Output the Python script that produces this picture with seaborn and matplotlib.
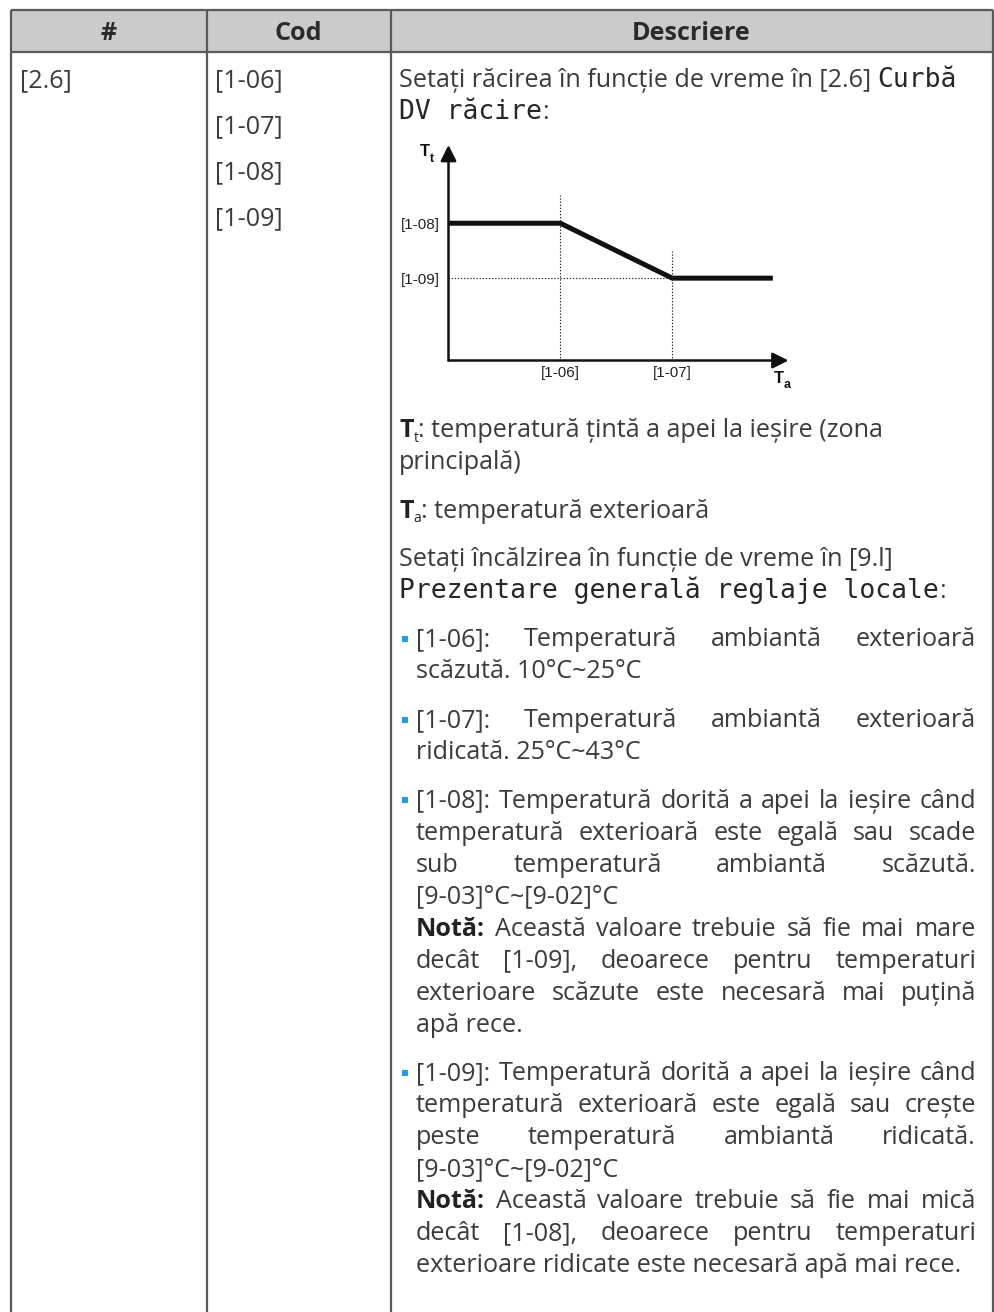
import matplotlib
matplotlib.use("Agg")
import matplotlib.pyplot as plt
from matplotlib.patches import Rectangle
import seaborn as sns
import pandas as pd

# ---------------- data ----------------
header_labels = ["#", "Cod", "Descriere"]
menu_code = "[2.6]"
setting_codes = ["[1-06]", "[1-07]", "[1-08]", "[1-09]"]

ta_points = [0, 10, 20, 29]          # outdoor ambient temperature (schematic)
tt_points = [10, 10, 6, 6]           # target leaving water temperature (schematic)
ta_tick_values = [10, 20]
ta_tick_labels = ["[1-06]", "[1-07]"]
tt_tick_values = [10, 6]
tt_tick_labels = ["[1-08]", "[1-09]"]
ta_axis_max = 30.4
tt_axis_max = 15.7
guide_tops = [12.05, 8.0]

intro_lines = [
    [("Setați răcirea în funcție de vreme în [2.6] ", "n"), ("Curbă", "m")],
    [("DV răcire", "m"), (":", "n")],
]
legend_tt_lines = [
    [("T", "b"), ("t", "s"), (": temperatură țintă a apei la ieșire (zona", "n")],
    [("principală)", "n")],
]
legend_ta_lines = [
    [("T", "b"), ("a", "s"), (": temperatură exterioară", "n")],
]
heating_lines = [
    [("Setați încălzirea în funcție de vreme în [9.l]", "n")],
    [("Prezentare generală reglaje locale", "m"), (":", "n")],
]
# (justify, runs)
bullet_items = [
    [(True, [("[1-06]: Temperatură ambiantă exterioară", "n")]),
     (False, [("scăzută. 10°C~25°C", "n")])],
    [(True, [("[1-07]: Temperatură ambiantă exterioară", "n")]),
     (False, [("ridicată. 25°C~43°C", "n")])],
    [(True, [("[1-08]: Temperatură dorită a apei la ieșire când", "n")]),
     (True, [("temperatură exterioară este egală sau scade", "n")]),
     (True, [("sub temperatură ambiantă scăzută.", "n")]),
     (False, [("[9-03]°C~[9-02]°C", "n")]),
     (True, [("Notă:", "b"), (" Această valoare trebuie să fie mai mare", "n")]),
     (True, [("decât [1-09], deoarece pentru temperaturi", "n")]),
     (True, [("exterioare scăzute este necesară mai puțină", "n")]),
     (False, [("apă rece.", "n")])],
    [(True, [("[1-09]: Temperatură dorită a apei la ieșire când", "n")]),
     (True, [("temperatură exterioară este egală sau crește", "n")]),
     (True, [("peste temperatură ambiantă ridicată.", "n")]),
     (False, [("[9-03]°C~[9-02]°C", "n")]),
     (True, [("Notă:", "b"), (" Această valoare trebuie să fie mai mică", "n")]),
     (True, [("decât [1-08], deoarece pentru temperaturi", "n")]),
     (False, [("exterioare ridicate este necesară apă mai rece.", "n")])],
]

# ---------------- style / layout ----------------
W, H = 995, 1312
sns.set_theme(style="white")
SANS = ["Open Sans", "DejaVu Sans"]
MONO = ["DejaVu Sans Mono"]
plt.rcParams["font.family"] = SANS

TXT = "#3b3b3b"
MONO_C = "#262626"
BORDER = "#5a5a5a"
HEAD_BG = "#cbcbcb"
BULLET_C = "#1e9fe0"
INK = "#111111"

fig = plt.figure(figsize=(W / 100, H / 100), dpi=100)
bg = fig.add_axes([0, 0, 1, 1])
bg.set_xlim(0, W)
bg.set_ylim(H, 0)
bg.axis("off")
renderer = fig.canvas.get_renderer()


def _measure(s, **kw):
    t = bg.text(0, 0, s, **kw)
    w = t.get_window_extent(renderer).width
    t.remove()
    return w


# auto-fit font sizes to reference line widths
fs_n = 15.0 * 495.0 / _measure("Setați încălzirea în funcție de vreme în [9.l]", family=SANS, size=15)
fs_m = 15.0 * 545.0 / _measure("Prezentare generală reglaje locale", family=MONO, size=15)

STY = {
    "n": dict(family=SANS, size=fs_n, color=TXT),
    "b": dict(family=SANS, size=fs_n, color="#222222", weight="bold"),
    "m": dict(family=MONO, size=fs_m, color=MONO_C),
    "s": dict(family=SANS, size=fs_n * 0.55, color="#222222"),
}
SUB_DY = 5


def measure(s, st):
    return _measure(s, **STY[st])


def space_w(st):
    return measure("a a", st) - measure("aa", st)


def put(x, y, s, st):
    dy = SUB_DY if st == "s" else 0
    bg.text(x, y + dy, s, ha="left", va="baseline", **STY[st])


def draw_line(x0, y, runs, justify=False, x1=None):
    if justify:
        words = []
        for txt, st in runs:
            for w in txt.split():
                words.append((w, st))
        widths = [measure(w, st) for w, st in words]
        gap = (x1 - x0 - sum(widths)) / max(len(words) - 1, 1)
        gap = max(gap, 0.6 * space_w("n"))
        x = x0
        for (w, st), wd in zip(words, widths):
            put(x, y, w, st)
            x += wd + gap
    else:
        x = x0
        for txt, st in runs:
            core = txt.strip(" ")
            lead = len(txt) - len(txt.lstrip(" "))
            trail = len(txt) - len(txt.rstrip(" "))
            x += lead * space_w(st)
            put(x, y, core, st)
            x += measure(core, st) + trail * space_w(st)


# ---------------- table frame ----------------
X_L, X_C1, X_C2, X_R = 11, 206.5, 390.5, 992.5
Y_T, Y_HB = 10, 52
bg.add_patch(Rectangle((X_L, Y_T), X_R - X_L, Y_HB - Y_T, facecolor=HEAD_BG, edgecolor="none"))
for xv in (X_L, X_C1, X_C2, X_R):
    bg.plot([xv, xv], [Y_T, H + 2], color=BORDER, lw=1.6, solid_capstyle="butt")
for yv in (Y_T, Y_HB):
    bg.plot([X_L, X_R], [yv, yv], color=BORDER, lw=1.6, solid_capstyle="butt")

for lab, xa, xb in zip(header_labels, (X_L, X_C1, X_C2), (X_C1, X_C2, X_R)):
    bg.text((xa + xb) / 2, 40, lab, ha="center", va="baseline", family=SANS,
            size=fs_n, weight="bold", color="#2b2b2b")

ROW_Y = 87
draw_line(20, ROW_Y, [(menu_code, "n")])
for i, c in enumerate(setting_codes):
    draw_line(215, ROW_Y + 46 * i, [(c, "n")])

# ---------------- description column ----------------
XT = 399
XB_TXT = 416
XJ_R = 976
L = 32.0
P = 48.5

y = ROW_Y
for ln in intro_lines:
    draw_line(XT, y, ln)
    y += L

# ---------------- chart (seaborn) ----------------
ox, oy = 448.5, 360.5           # axes origin in pixels
aw, ah = 340.0, 215.5
ax = fig.add_axes([ox / W, (H - oy) / H, aw / W, ah / H])
ax.set_facecolor("none")
df = pd.DataFrame({"Ta": ta_points, "Tt": tt_points})
sns.lineplot(data=df, x="Ta", y="Tt", ax=ax, color=INK, lw=3.6, sort=False,
             legend=False, solid_capstyle="butt", solid_joinstyle="miter")
ax.set_xlim(0, ta_axis_max)
ax.set_ylim(0, tt_axis_max)
for s in ax.spines.values():
    s.set_visible(False)
dots = (0, (1.2, 1.6))
ax.vlines(ta_points[1], 0, guide_tops[0], colors="#222222", lw=0.8, linestyles=dots)
ax.vlines(ta_points[2], 0, guide_tops[1], colors="#222222", lw=0.8, linestyles=dots)
ax.hlines(tt_points[2], 0, ta_points[2], colors="#222222", lw=0.8, linestyles=dots)
arrow = dict(arrowstyle="-|>,head_length=0.6,head_width=0.3", lw=1.8, color=INK,
             shrinkA=0, shrinkB=0, mutation_scale=16)
ax.annotate("", xy=(0, tt_axis_max), xytext=(0, 0), arrowprops=arrow, annotation_clip=False)
ax.annotate("", xy=(ta_axis_max, 0), xytext=(0, 0), arrowprops=arrow, annotation_clip=False)
ax.set_xticks(ta_tick_values, ta_tick_labels, family="Liberation Sans", fontsize=11, color="#222222")
ax.set_yticks(tt_tick_values, tt_tick_labels, family="Liberation Sans", fontsize=11, color="#222222")
ax.tick_params(axis="both", length=0)
ax.tick_params(axis="x", pad=4)
ax.tick_params(axis="y", pad=6)
ax.set_xlabel("")
ax.set_ylabel("")
# axis titles
bg.text(420, 156, "T", family="Liberation Sans", weight="bold", size=12, color=INK, va="baseline")
bg.text(429.5, 162, "t", family="Liberation Sans", weight="bold", size=9, color=INK, va="baseline")
bg.text(774, 383, "T", family="Liberation Sans", weight="bold", size=12, color=INK, va="baseline")
bg.text(783.5, 388, "a", family="Liberation Sans", weight="bold", size=9, color=INK, va="baseline")

# ---------------- text after chart ----------------
y = 437
for ln in legend_tt_lines:
    draw_line(XT, y, ln)
    y += L
y += P - L
for ln in legend_ta_lines:
    draw_line(XT, y, ln)
    y += L
y += P - L
for ln in heating_lines:
    draw_line(XT, y, ln)
    y += L
y += P - L
for item in bullet_items:
    bg.add_patch(Rectangle((402, y - 10.5), 6, 6, facecolor=BULLET_C, edgecolor="none"))
    for just, runs in item:
        draw_line(XB_TXT, y, runs, justify=just, x1=XJ_R)
        y += L
    y += P - L

fig.savefig("out.png", dpi=100)
